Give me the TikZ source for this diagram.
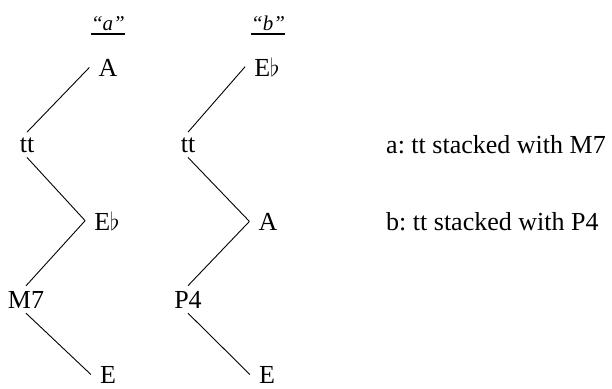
\documentclass[tikz,border=0pt]{standalone}
\usepackage{fontspec}
\setmainfont{Liberation Serif}
\usetikzlibrary{calc}
\begin{document}
\frenchspacing
\begin{tikzpicture}[x=1pt,y=-1pt,
  lab/.style={font=\fontsize{26}{30}\selectfont, inner xsep=9pt, inner ysep=5pt, anchor=base},
  txt/.style={font=\fontsize{26}{30}\selectfont, inner sep=0pt, anchor=base west},
  hd/.style={font=\fontsize{21}{25}\selectfont\itshape, inner sep=0pt, anchor=base},
  conn/.style={line width=0.9pt},
  uline/.style={line width=1.2pt}]
\useasboundingbox[fill=white] (0,0) rectangle (612,388);
% headers
\node[hd] (ha) at (108,30) {“a”};
\node[hd] (hb) at (268,30) {“b”};
\draw[uline] ($(ha.base west)+(0,4)$) coordinate (ha1) -- ($(ha.base east)+(0,4)$) coordinate (ha2);
\draw[uline] ($(hb.base west)+(0,4)$) coordinate (hb1) -- ($(hb.base east)+(0,4)$) coordinate (hb2);
% left column
\node[lab] (a1) at (108,76) {A};
\node[lab] (a2) at (27,152) {tt};
\node[lab] (a3) at (107,230) {E$\flat$};
\node[lab] (a4) at (26,308) {M7};
\node[lab, inner ysep=1pt] (a5) at (108,383) {E};
% right column
\node[lab] (b1) at (267,76) {E$\flat$};
\node[lab] (b2) at (188,152) {tt};
\node[lab] (b3) at (268,230) {A};
\node[lab] (b4) at (188,308) {P4};
\node[lab, inner ysep=1pt] (b5) at (267,383) {E};
% connectors
\draw[conn] (a2.north) -- (a1.west);
\draw[conn] (a2.south) -- (a3.west);
\draw[conn] (a3.west) -- (a4.north);
\draw[conn] (a4.south) -- (a5.west);
\draw[conn] (b2.north) -- (b1.west);
\draw[conn] (b2.south) -- (b3.west);
\draw[conn] (b3.west) -- (b4.north);
\draw[conn] (b4.south) -- (b5.west);
% legend
\node[txt] (t1) at (386,153) {a: tt stacked with M7};
\node[txt] (t2) at (386,230) {b: tt stacked with P4};
\end{tikzpicture}
\end{document}
